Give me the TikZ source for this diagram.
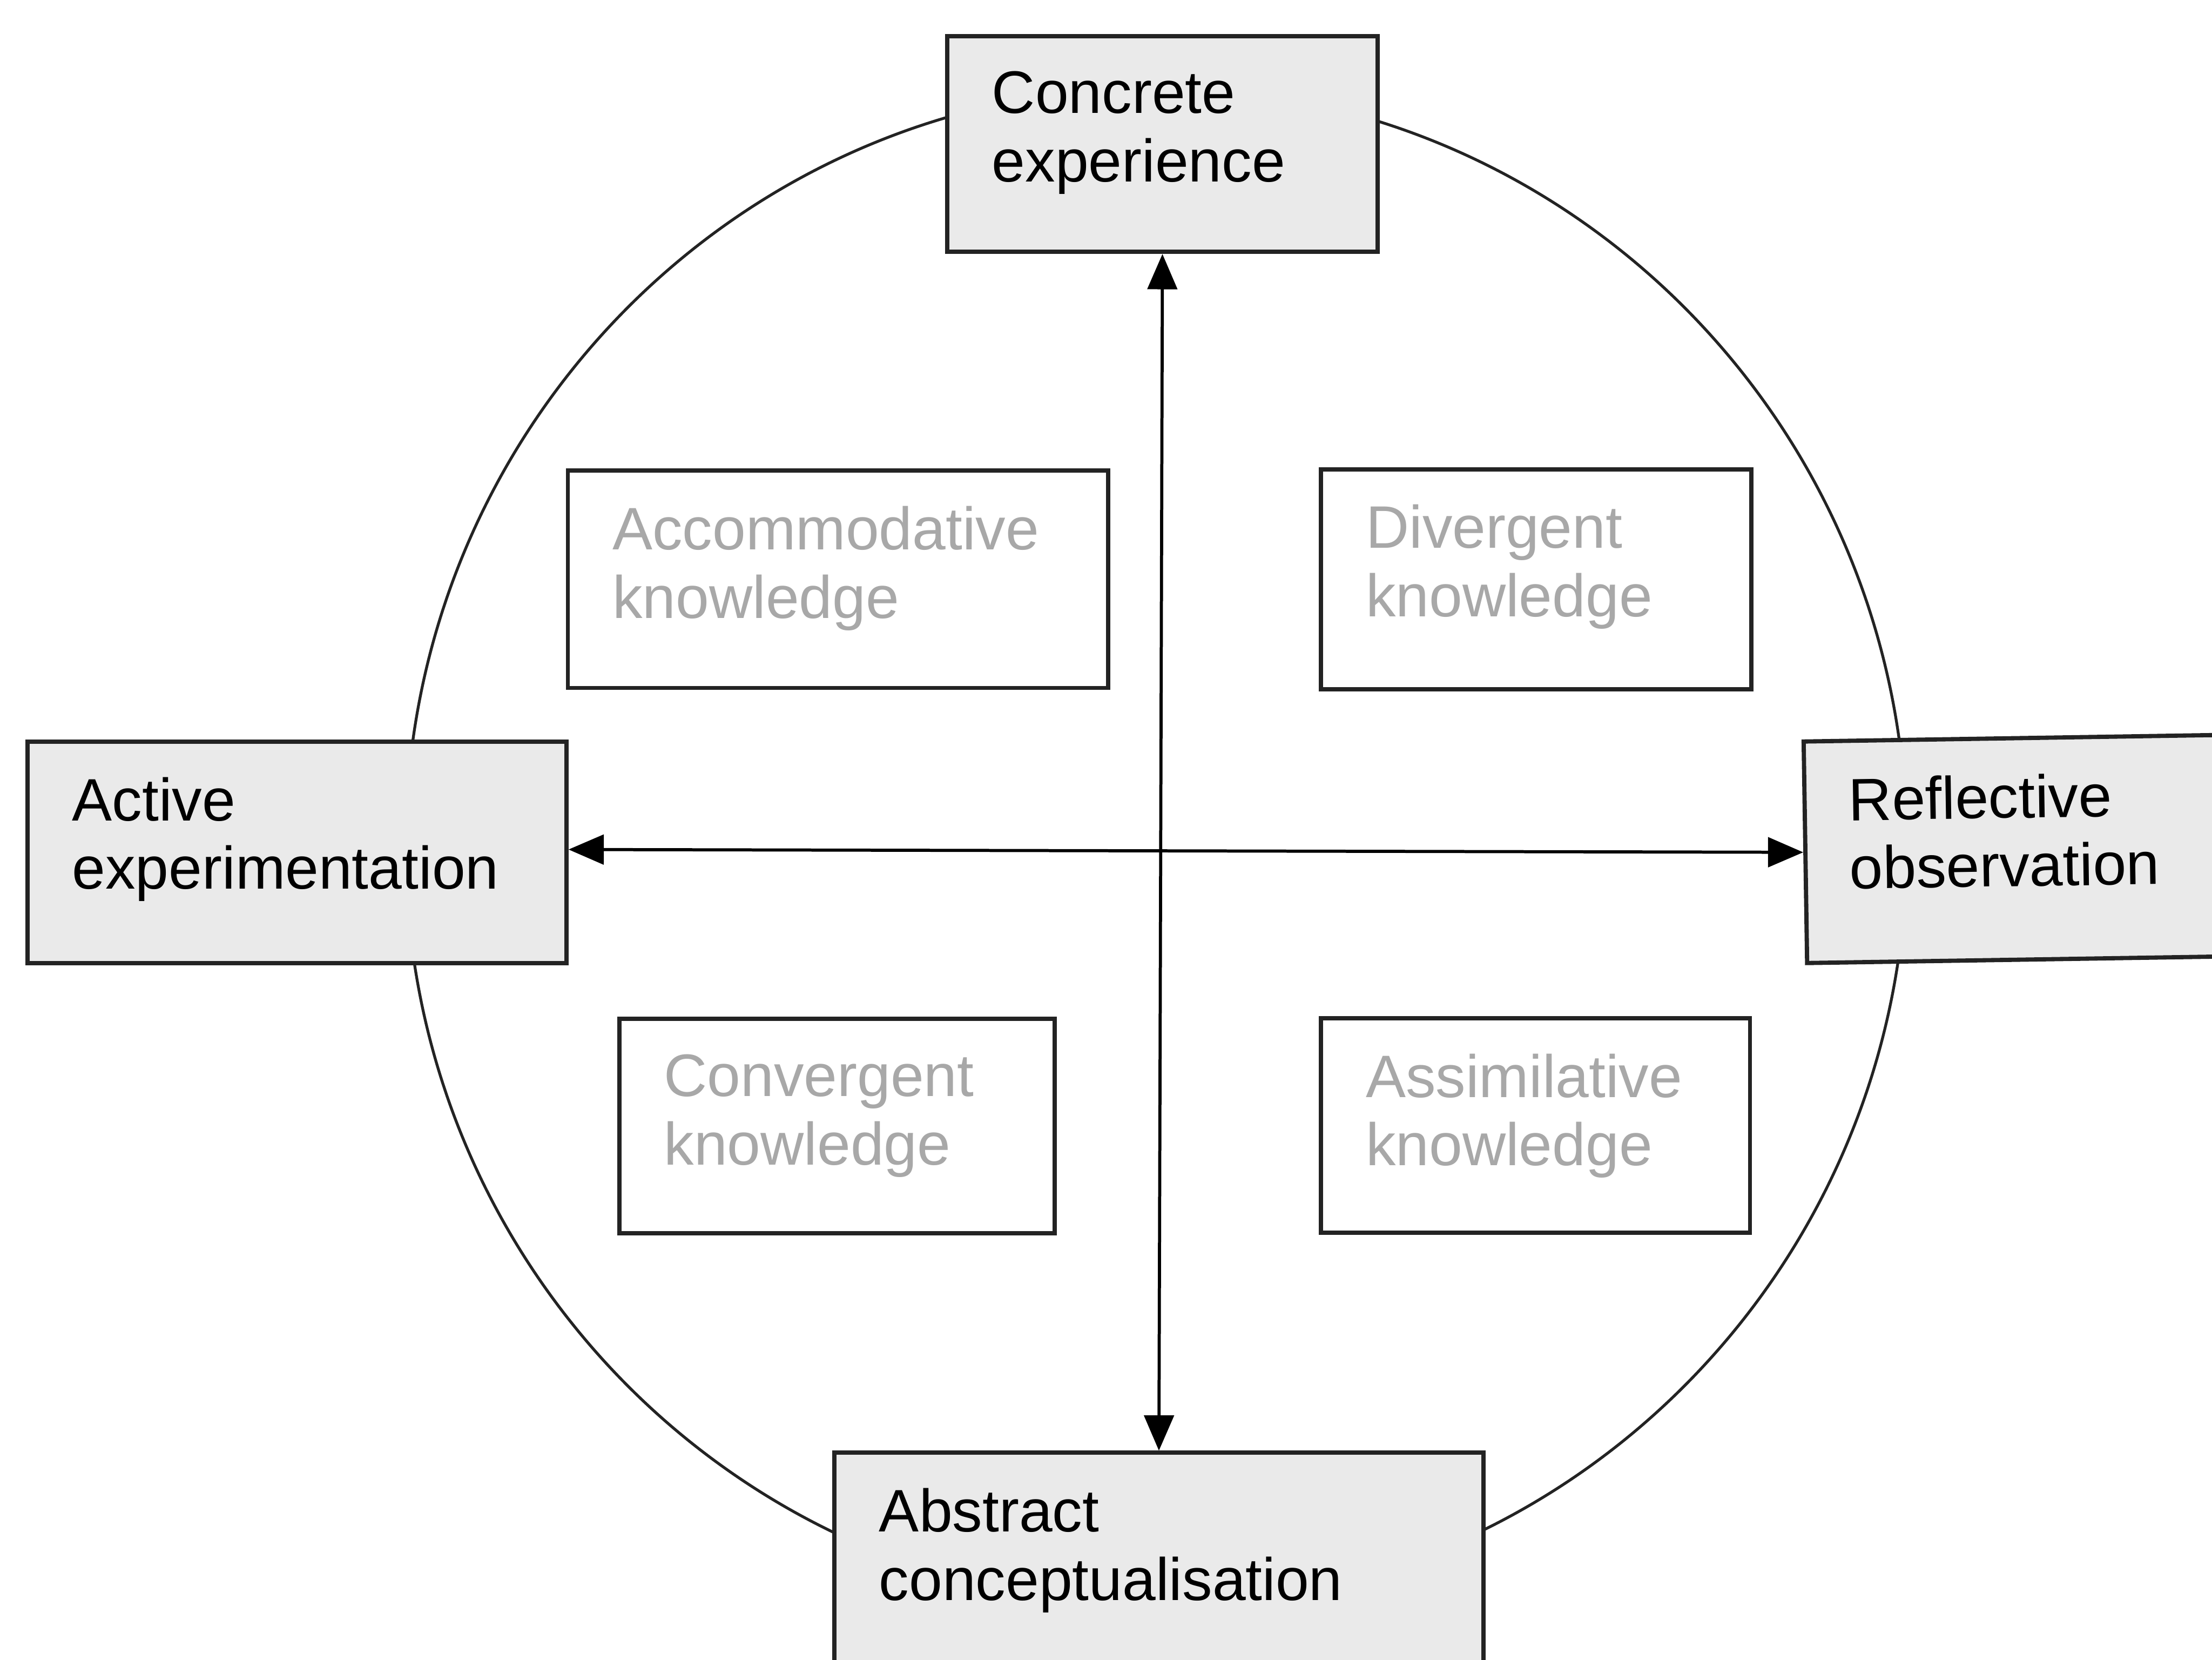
\documentclass[tikz,border=0pt]{standalone}
\usepackage{fontspec}
\setmainfont{Liberation Sans}
\usetikzlibrary{arrows.meta}
\definecolor{boxfill}{RGB}{234,234,234}
\definecolor{edge}{RGB}{35,35,35}
\definecolor{faint}{RGB}{168,168,168}
\pgfdeclarelayer{back}
\pgfsetlayers{back,main}

\begin{document}
\begin{tikzpicture}[x=1pt,y=-1pt,
  stagebox/.style={draw=edge, line width=3pt, fill=boxfill, anchor=north west, inner sep=0pt},
  knowbox/.style={draw=edge, line width=3pt, fill=white, anchor=north west, inner sep=0pt},
  stagetext/.style={anchor=north west, inner sep=0pt, align=left,
    font=\fontsize{42.5}{48.5}\selectfont, text=black},
  knowtext/.style={stagetext, text=faint},
  cyclering/.style={draw=edge, line width=2pt},
  twoway/.style={line width=2.2pt, draw=black,
    {Triangle[length=25pt,width=21pt]}-{Triangle[length=25pt,width=21pt]}}
]
\useasboundingbox (0,0) rectangle (1568,1176);
\clip (0,0) rectangle (1568,1176);

% paper and the learning cycle, behind everything else
\begin{pgfonlayer}{back}
  \fill[white] (0,0) rectangle (1568,1176);
  \draw[cyclering] (819.5,600) ellipse [x radius=532, y radius=538];
\end{pgfonlayer}

% the four stages
\node[stagebox, minimum width=305, minimum height=153] (ce) at (670,24) {};
\node[stagetext] (cetext) at ([shift={(33,26.5)}]ce.north west) {Concrete\\experience};

\node[stagebox, minimum width=382, minimum height=157] (ae) at (18,524) {};
\node[stagetext] (aetext) at ([shift={(33,26.5)}]ae.north west) {Active\\experimentation};

\node[stagebox, minimum width=330, minimum height=157, rotate=0.9] (ro) at (1277,524) {};
\node[stagetext, rotate=0.9] (rotext) at (1310,550.5) {Reflective\\observation};

\node[stagebox, minimum width=460, minimum height=200] (ac) at (590,1028) {};
\node[stagetext] (actext) at ([shift={(33,26.5)}]ac.north west) {Abstract\\conceptualisation};

% the four kinds of knowledge
\node[knowbox, minimum width=383, minimum height=154] (acc) at (401,332) {};
\node[knowtext] (acctext) at ([shift={(33,26.5)}]acc.north west) {Accommodative\\knowledge};

\node[knowbox, minimum width=305, minimum height=156] (div) at (935,331) {};
\node[knowtext] (divtext) at ([shift={(33,26.5)}]div.north west) {Divergent\\knowledge};

\node[knowbox, minimum width=308.5, minimum height=152] (con) at (437.5,720.5) {};
\node[knowtext] (context) at ([shift={(33,26.5)}]con.north west) {Convergent\\knowledge};

\node[knowbox, minimum width=304, minimum height=152] (ass) at (935,720) {};
\node[knowtext] (asstext) at ([shift={(33,26.5)}]ass.north west) {Assimilative\\knowledge};

% the two axes
\draw[twoway] (ce.south) -- (ac.north);
\draw[twoway] ([yshift=2]ae.east) -- (ro.west);
\end{tikzpicture}
\end{document}
